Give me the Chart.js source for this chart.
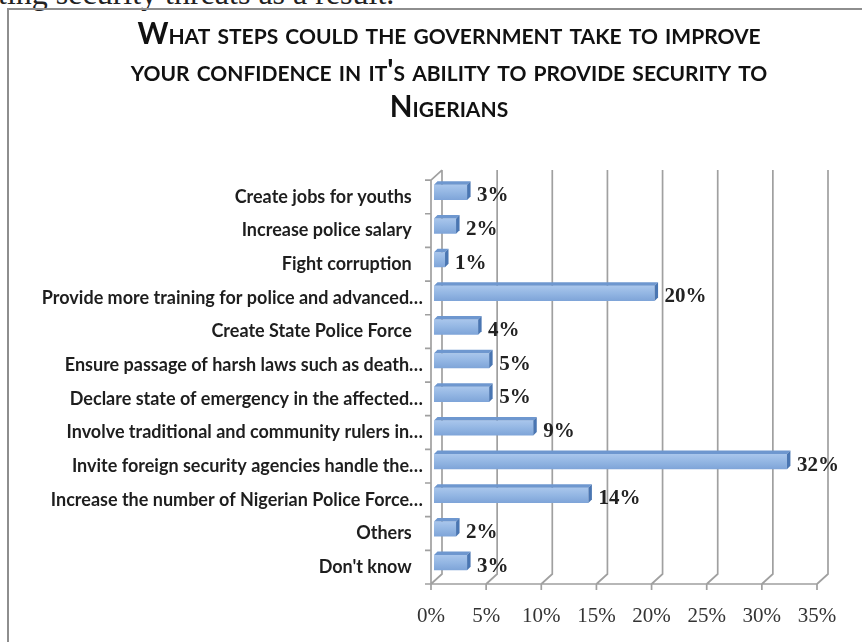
<!DOCTYPE html>
<html>
<head>
<meta charset="utf-8">
<script src="https://cdn.jsdelivr.net/npm/chart.js@4.4.1/dist/chart.umd.min.js"></script>
<style>
  html, body { margin: 0; padding: 0; background: #fff; overflow: hidden; }
  #lead { position: absolute; left: -2px; top: -23px; font: 32px/32px "Liberation Serif", serif; color: #222; white-space: nowrap; }
  #frame { position: absolute; left: 7px; top: 8px; width: 900px; height: 700px; border-top: 2px solid #8e8e8e; border-left: 2px solid #8e8e8e; }
  #wrap { position: absolute; left: 0; top: 0; width: 862px; height: 642px; }
</style>
</head>
<body>
<div id="lead">ting security threats as a result.</div>
<div id="frame"></div>
<div id="wrap"><canvas id="c" width="862" height="642"></canvas></div>
<script>
// Survey answers, top to bottom
const titleLines = [
  "What steps could the government take to improve",
  "your confidence in it's ability to provide security to",
  "Nigerians"
];
const categories = [
  "Create jobs for youths",
  "Increase police salary",
  "Fight corruption",
  "Provide more training for police and advanced\u2026",
  "Create State Police Force",
  "Ensure passage of harsh laws such as death\u2026",
  "Declare state of emergency in the affected\u2026",
  "Involve traditional and community rulers in\u2026",
  "Invite foreign security agencies handle the\u2026",
  "Increase the number of Nigerian Police Force\u2026",
  "Others",
  "Don't know"
];
const values = [3, 2, 1, 20, 4, 5, 5, 9, 32, 14, 2, 3];
const axisMax = 35;
const axisStep = 5;

// 3-D look: depth of the plot box and of the bars
const WALL_DX = 11, WALL_DY = 10;
const BAR_DX = 3, BAR_DY = -4.5, FACE = 3.5;
const BAR_FRACTION = 0.45;
const LINE_COLOR = '#a0a0a0';

const depthPlugin = {
  id: 'depth3d',
  beforeDatasetsDraw(chart) {
    const { ctx, chartArea: a, scales: { x, y } } = chart;
    const x0 = x.getPixelForValue(0);
    const xEnd = x.getPixelForValue(axisMax);
    const band = y.getPixelForValue(1) - y.getPixelForValue(0);
    ctx.save();
    ctx.strokeStyle = LINE_COLOR;
    ctx.lineWidth = 1.7;
    ctx.beginPath();
    // back wall gridlines, floor diagonals and tick marks
    x.ticks.forEach(t => {
      const px = x.getPixelForValue(t.value);
      ctx.moveTo(px + WALL_DX, a.top - WALL_DY);
      ctx.lineTo(px + WALL_DX, a.bottom - WALL_DY);
      ctx.lineTo(px, a.bottom);
      ctx.lineTo(px, a.bottom + 6);
    });
    // front edge of the floor
    ctx.moveTo(x0, a.bottom);
    ctx.lineTo(xEnd, a.bottom);
    // side wall
    ctx.moveTo(x0, a.bottom);
    ctx.lineTo(x0, a.top);
    ctx.lineTo(x0 + WALL_DX, a.top - WALL_DY);
    // category separators
    for (let i = 0; i <= categories.length; i++) {
      const py = y.getPixelForValue(i) - band / 2;
      ctx.moveTo(x0 - 6, py);
      ctx.lineTo(x0, py);
    }
    ctx.stroke();
    ctx.restore();
    // bars sit a little inside the box
    ctx.save();
    ctx.translate(BAR_DX, BAR_DY);
  },
  afterDatasetsDraw(chart) {
    const { ctx } = chart;
    const meta = chart.getDatasetMeta(0);
    meta.data.forEach(bar => {
      const { x, y, base, height } = bar.getProps(['x', 'y', 'base', 'height'], true);
      const t = y - height / 2, b = y + height / 2;
      // top face
      ctx.fillStyle = '#6e97cf';
      ctx.beginPath();
      ctx.moveTo(base, t);
      ctx.lineTo(base + FACE, t - FACE);
      ctx.lineTo(x + FACE, t - FACE);
      ctx.lineTo(x, t);
      ctx.closePath();
      ctx.fill();
      // end face
      ctx.fillStyle = '#4a76b2';
      ctx.beginPath();
      ctx.moveTo(x, t);
      ctx.lineTo(x + FACE, t - FACE);
      ctx.lineTo(x + FACE, b - FACE);
      ctx.lineTo(x, b);
      ctx.closePath();
      ctx.fill();
    });
    ctx.restore();
    // value labels
    ctx.save();
    ctx.font = 'bold 21px "Liberation Serif", serif';
    ctx.fillStyle = '#222';
    ctx.textAlign = 'left';
    ctx.textBaseline = 'middle';
    meta.data.forEach((bar, i) => {
      ctx.fillText(values[i] + '%', bar.x + 13, bar.y - 1);
    });
    ctx.restore();
  }
};

new Chart(document.getElementById('c'), {
  type: 'bar',
  data: {
    labels: categories,
    datasets: [{
      data: values,
      borderWidth: 0,
      barPercentage: BAR_FRACTION,
      categoryPercentage: 1,
      backgroundColor(c) {
        const chart = c.chart;
        const y = chart.scales.y;
        if (c.type !== 'data' || !y) return '#93b6e3';
        const cy = y.getPixelForValue(c.dataIndex);
        const h = (y.getPixelForValue(1) - y.getPixelForValue(0)) * BAR_FRACTION / 2;
        if (!isFinite(cy) || !isFinite(h)) return '#93b6e3';
        const g = chart.ctx.createLinearGradient(0, cy - h, 0, cy + h);
        g.addColorStop(0, '#a9c6ec');
        g.addColorStop(0.5, '#93b6e3');
        g.addColorStop(1, '#7ea4d8');
        return g;
      }
    }]
  },
  options: {
    indexAxis: 'y',
    responsive: false,
    animation: false,
    // the title box runs a little past the right edge so that it centres over the plot
    layout: { padding: { left: 0, right: -36, top: 0, bottom: 0 } },
    plugins: {
      legend: { display: false },
      tooltip: { enabled: false },
      title: {
        display: true,
        text: titleLines,
        color: '#111',
        font: { family: 'Lato', weight: 'small-caps 700', size: 29.5, lineHeight: 1.244 },
        padding: { top: 16, bottom: 54 }
      }
    },
    scales: {
      x: {
        min: 0,
        max: axisMax,
        grid: { display: false, drawTicks: false },
        border: { display: false },
        ticks: {
          stepSize: axisStep,
          padding: 20,
          color: '#333',
          font: { family: '"Liberation Serif", serif', size: 21 },
          callback: v => v + '%'
        },
        afterFit(scale) { scale.height = 58; }
      },
      y: {
        grid: { display: false, drawTicks: false },
        border: { display: false },
        ticks: {
          padding: 8,
          color: '#1e1e1e',
          autoSkip: false,
          font: { family: 'Lato', weight: 'bold', size: 18 },
          callback(v) {
            const s = this.getLabelForValue(v);
            return s.endsWith('\u2026') ? s : s + '\u2002\u2009';
          }
        },
        afterFit(scale) { scale.width = 431; }
      },
      // empty strip on the right of the plot
      yRight: {
        type: 'category',
        position: 'right',
        grid: { display: false, drawTicks: false },
        border: { display: false },
        ticks: { display: false },
        afterFit(scale) { scale.width = 81; }
      }
    }
  },
  plugins: [depthPlugin]
});
</script>
</body>
</html>
